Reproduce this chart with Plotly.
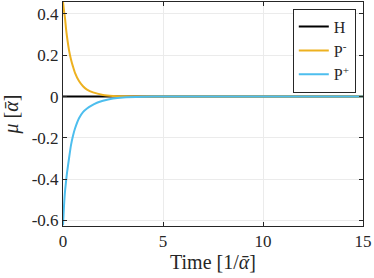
import plotly.graph_objects as go

# Data
t_h = [0, 15]
h_vals = [0, 0]

t_pm = [0, 0.05, 0.1, 0.15, 0.2, 0.3, 0.4, 0.5, 0.6, 0.8, 1.0, 1.2, 1.5, 2.0, 2.5, 3.0, 4.0, 5.0, 15.0]
p_minus = [0.458, 0.415, 0.38, 0.33, 0.29, 0.225, 0.18, 0.145, 0.115, 0.075, 0.05, 0.034, 0.02, 0.008,
           0.003, 0.001, 0.0, 0.0, 0.0]

t_pp = [0, 0.05, 0.1, 0.165, 0.2, 0.3, 0.4, 0.5, 0.6, 0.8, 1.0, 1.2, 1.4, 1.7, 2.0, 2.5, 3.0, 4.0, 5.0, 15.0]
p_plus = [-0.623, -0.53, -0.46, -0.4, -0.37, -0.3, -0.235, -0.19, -0.155, -0.105, -0.075, -0.058, -0.045,
          -0.03, -0.02, -0.009, -0.004, -0.001, 0.0, 0.0]

x_ticks = [0, 5, 10, 15]
y_ticks = [-0.6, -0.4, -0.2, 0, 0.2, 0.4]
y_tick_labels = ["-0.6", "-0.4", "-0.2", "0", "0.2", "0.4"]

font_family = "Liberation Serif"
txt = "#262626"

fig = go.Figure()
fig.add_trace(go.Scatter(x=t_h, y=h_vals, mode="lines", name="H",
                         line=dict(color="#000000", width=2)))
fig.add_trace(go.Scatter(x=t_pm, y=p_minus, mode="lines", name="P<sup>-</sup>",
                         line=dict(color="#EDB120", width=2, shape="spline", smoothing=0.6)))
fig.add_trace(go.Scatter(x=t_pp, y=p_plus, mode="lines", name="P<sup>+</sup>",
                         line=dict(color="#4DBEEE", width=2, shape="spline", smoothing=0.6)))

axis_common = dict(
    showline=True, linecolor=txt, linewidth=1, mirror="ticks",
    ticks="inside", ticklen=4, tickcolor=txt,
    showgrid=True, gridcolor="#EBEBEB", gridwidth=1,
    zeroline=False, automargin=False,
    tickfont=dict(family=font_family, size=17, color=txt),
)

fig.update_layout(
    width=374, height=278,
    margin=dict(l=63, r=11, t=2, b=52),
    paper_bgcolor="white", plot_bgcolor="white",
    font=dict(family=font_family, size=17, color=txt),
    xaxis=dict(range=[0, 15], tickvals=x_ticks, ticktext=[str(v) for v in x_ticks],
               title=dict(text="Time [1/<i>ᾱ</i>]", font=dict(family=font_family, size=20, color=txt), standoff=0),
               **axis_common),
    yaxis=dict(range=[-0.627, 0.458], tickvals=y_ticks, ticktext=y_tick_labels,
               title=dict(text="<i>μ</i> [<i>ᾱ</i>]", font=dict(family=font_family, size=20, color=txt), standoff=10),
               **axis_common),
    legend=dict(x=0.976, y=0.97, xanchor="right", yanchor="top",
                bgcolor="white", bordercolor=txt, borderwidth=1,
                itemwidth=30, tracegroupgap=0,
                font=dict(family=font_family, size=16, color=txt)),
    showlegend=True,
)

fig.write_html("out.html", config={"displayModeBar": False},
               post_script="document.body.style.margin='0';document.body.style.padding='0';")
